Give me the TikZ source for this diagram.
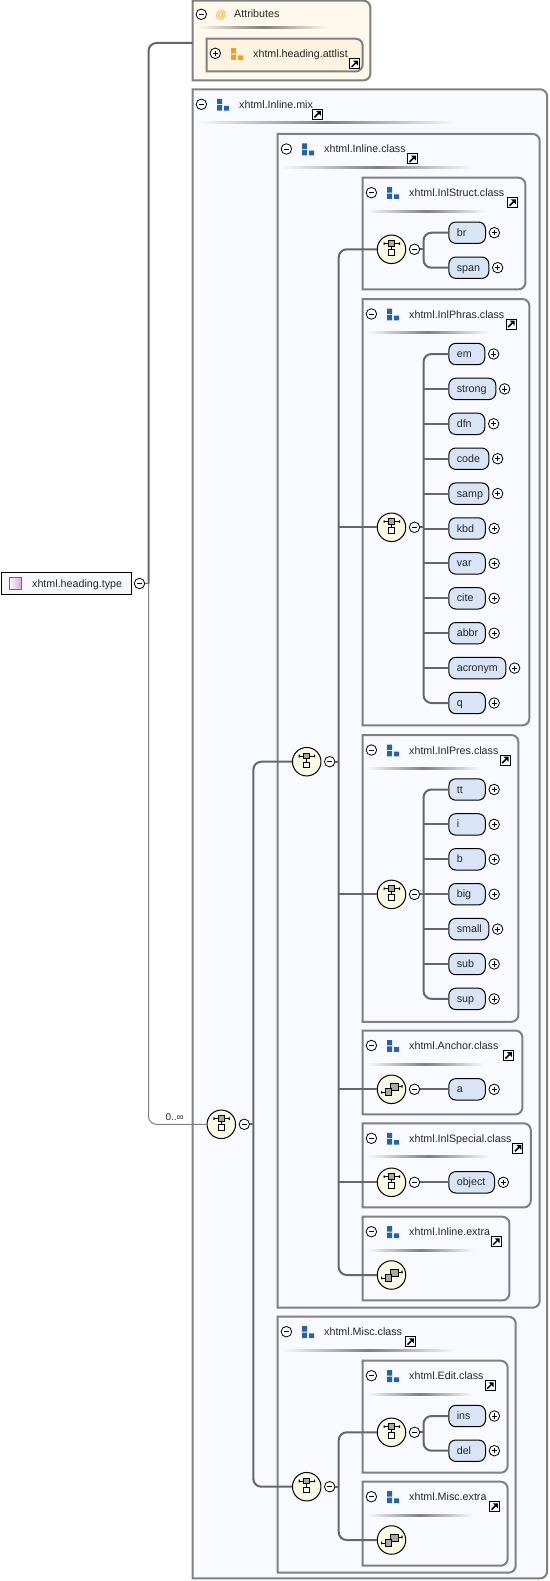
\documentclass[tikz,border=0pt]{standalone}
\usepackage{fontspec}
\setmainfont{Liberation Sans}
\usetikzlibrary{positioning}
\definecolor{boxblue}{HTML}{F8FAFF}
\definecolor{boxsand}{HTML}{FFF8EC}
\definecolor{listsand}{HTML}{FEF3DF}
\definecolor{elemblue}{HTML}{D9E5F7}
\definecolor{seqcream}{HTML}{FBFAE2}
\definecolor{framegray}{HTML}{808080}
\definecolor{wiregray}{HTML}{666666}
\definecolor{icongray}{HTML}{A8A8A8}
\definecolor{iconblue}{HTML}{2463A9}
\definecolor{iconorange}{HTML}{EFA217}
\tikzset{
  every node/.style={font=\fontsize{10.7}{12}\selectfont,text=black!85},
  boxarea/.style={anchor=north west,inner sep=0pt},
  framepath/.style={draw=framegray,line width=2pt},
  headtext/.style={anchor=base west,inner sep=0pt},
  rulebar/.style={anchor=west,inner sep=0pt,minimum height=2pt,minimum width=#1,
    left color=boxblue,right color=boxblue,middle color=black!50},
  wire/.style={draw=wiregray,line width=2pt},
  softwire/.style={draw=framegray,line width=1pt},
  elembox/.style={draw=black,line width=1pt,fill=elemblue,rounded corners=7pt,anchor=west,
    minimum height=21.4pt,text width=#1-16,inner xsep=8pt,inner ysep=0pt,align=left,
    text height=8pt,text depth=1pt},
  minusmark/.style={circle,draw=black,line width=.8pt,fill=white,minimum size=10.5pt,inner sep=0pt,
    path picture={\draw[line width=.8pt,shift={(path picture bounding box.center)}] (-2.6,0) -- (2.6,0);}},
  plusmark/.style={circle,draw=black,line width=.8pt,fill=white,minimum size=10.5pt,inner sep=0pt,
    path picture={\draw[line width=.8pt,shift={(path picture bounding box.center)}] (-2.6,0) -- (2.6,0) (0,-2.6) -- (0,2.6);}},
  headicon/.style={minimum size=13pt,inner sep=0pt,
    path picture={\fill[#1,shift={(path picture bounding box.center)}]
      (-6,-6.2) rectangle (-1,-.8) (-6,.2) rectangle (-1,5.6) (1.2,1) rectangle (6,5.6);}},
  linkmark/.style={rectangle,draw=black,line width=1pt,fill=white,minimum size=10pt,inner sep=0pt,
    path picture={\begin{scope}[shift={(path picture bounding box.center)}]
      \draw[line width=1.5pt] (-3,3) -- (1,-1);
      \fill[black] (3.4,-3.4) -- (-1.6,-3.4) -- (3.4,1.6) -- cycle;
    \end{scope}}},
  seqmark/.style={circle,draw=black,line width=1pt,fill=seqcream,minimum size=28.5pt,inner sep=0pt,
    path picture={\begin{scope}[shift={(path picture bounding box.center)},line width=1pt]
      \draw (0,-3) -- (0,.5);
      \draw (-7.5,-5.7) -- (8,-5.7);
      \fill[black] (-8,-7) rectangle (-6.8,-4.4) (7.3,-7) rectangle (8.5,-4.4);
      \draw[fill=icongray] (-2.8,-8.5) rectangle (2.8,-3);
      \draw[fill=white] (-2.8,.5) rectangle (2.8,6);
    \end{scope}}},
  allmark/.style={circle,draw=black,line width=1pt,fill=seqcream,minimum size=28.5pt,inner sep=0pt,
    path picture={\begin{scope}[shift={(path picture bounding box.center)},line width=1pt]
      \draw (-10,3) -- (-6.5,3) (6.5,-3) -- (10.5,-3);
      \fill[black] (-10.5,1.7) rectangle (-9.3,4.3) (9.8,-4.3) rectangle (11,-1.7);
      \draw[fill=icongray] (-1,-5.7) rectangle (6.5,1.5);
      \draw[fill=icongray] (-6.5,-.7) rectangle (0,6);
    \end{scope}}},
}
% frame with rounded corners on the right only
\newcommand{\groupframe}[6][boxblue]{
  \node[boxarea,minimum width=#5-#3,minimum height=#6-#4] (#2) at (#3,#4) {};
  \draw[framepath,fill=#1] (#2.north west) [rounded corners=7pt] -- (#2.north east) -- (#2.south east) [sharp corners] -- (#2.south west) -- cycle;
}
% blue group: name, left, top, right, bottom, title, x of link
\newcommand{\groupbox}[7]{
  \groupframe{#1}{#2}{#3}{#4}{#5}
  \node[minusmark] (#1minus) at (#2+8.7,#3+15) {};
  \node[headicon=iconblue] (#1icon) at (#2+30.3,#3+15.7) {};
  \node[headtext] (#1title) at (#2+46.3,#3+19) {#6};
  \node[linkmark] (#1link) at (#7+5.2,#3+25) {};
  \node[rulebar={.73*(#4-#2)}] (#1rule) at (#2+4,#3+33.5) {};
}
% compositor: style, name, x, y
\newcommand{\compositor}[4]{
  \node[#1] (#2) at (#3,#4) {};
  \node[minusmark] (#2minus) at (#3+23,#4) {};
  \coordinate (#2trunk) at (#3+32,#4);
  \draw[wire] (#2minus.east) -- (#2trunk);
}
% element with its plus: name, text, width, y
\newcommand{\elemitem}[4]{
  \node[elembox=#3] (#1) at (448.3,#4) {#2};
  \node[plusmark,right=2.7pt of #1] (#1plus) {};
}

\begin{document}
\begin{tikzpicture}[x=1pt,y=-1pt]
\useasboundingbox (0,0) rectangle (549,1581);

% root
\node[draw=black,line width=1pt,fill=black!3!blue!3,minimum width=130pt,minimum height=21.6pt,inner sep=0pt,anchor=west] (root) at (.5,583.3) {};
\node[draw=black!55!blue!60,line width=.8pt,left color=white,right color=blue!50!red!35,minimum size=12.5pt,inner sep=0pt] (rooticon) at (15.5,583.5) {};
\node[headtext] (roottitle) at (32,587) {xhtml.heading.type};
\node[minusmark] (rootminus) at (139.5,583.5) {};
\coordinate (roottrunk) at (148.5,583.5);

% attributes
\groupframe[boxsand]{attributes}{192.7}{.7}{370}{80}
\node[minusmark] (attributesminus) at (201.3,14.3) {};
\node[headtext,text=iconorange] (attributesicon) at (215.5,18.5) {@};
\node[headtext] (attributestitle) at (234,18) {Attributes};
\node[rulebar=130,left color=boxsand,right color=boxsand,middle color=black!50] (attributesrule) at (197,28) {};
\coordinate (attributesin) at (192.7,43);
\groupframe[listsand]{attlist}{206.7}{38.7}{362.3}{71}
\node[plusmark] (attlistplus) at (215.3,53.3) {};
\node[headicon=iconorange] (attlisticon) at (237,54.4) {};
\node[headtext] (attlisttitle) at (253,57.7) {xhtml.heading.attlist};
\node[linkmark] (attlistlink) at (354.6,64) {};

% nested groups
\groupbox{mix}{192.7}{89.3}{546.7}{1578}{xhtml.Inline.mix}{312.3}
\groupbox{inlineclass}{277.7}{134}{539.3}{1307.3}{xhtml.Inline.class}{407.3}
\groupbox{struct}{362.7}{177.7}{525}{289}{xhtml.InlStruct.class}{507.3}
\groupbox{phras}{362.7}{299}{529}{725}{xhtml.InlPhras.class}{506}
\groupbox{pres}{362.7}{735}{518}{1021.4}{xhtml.InlPres.class}{500}
\groupbox{anchor}{362.7}{1030.5}{522}{1114}{xhtml.Anchor.class}{503.3}
\groupbox{special}{362.7}{1123.3}{530.4}{1207}{xhtml.InlSpecial.class}{512.7}
\groupbox{extra}{362.7}{1216.7}{509}{1300}{xhtml.Inline.extra}{491}
\groupbox{misc}{277.7}{1316.7}{515.3}{1572.3}{xhtml.Misc.class}{405.3}
\groupbox{edit}{362.7}{1360.7}{507.3}{1472.3}{xhtml.Edit.class}{485}
\groupbox{miscextra}{362.7}{1481.7}{507.3}{1565.3}{xhtml.Misc.extra}{489.3}

% compositors
\compositor{seqmark}{mixseq}{221.3}{1124.3}
\compositor{seqmark}{classseq}{306.7}{761.7}
\compositor{seqmark}{structseq}{391.5}{249.3}
\compositor{seqmark}{phrasseq}{391.5}{527.3}
\compositor{seqmark}{presseq}{391.5}{894.4}
\compositor{allmark}{anchorseq}{391.5}{1089.3}
\compositor{seqmark}{specialseq}{391.5}{1182.3}
\node[allmark] (extraseq) at (391.5,1275) {};
\compositor{seqmark}{miscseq}{306.7}{1486.7}
\compositor{seqmark}{editseq}{391.5}{1432.3}
\node[allmark] (miscextraseq) at (391.5,1540) {};

% elements
\elemitem{br}{br}{36.7}{232.7}
\elemitem{span}{span}{40}{267.7}
\foreach \elemname/\elemw [count=\i from 0] in {em/36,strong/47,dfn/36,code/40,samp/40,kbd/36.5,var/36.5,cite/36.5,abbr/36.5,acronym/57,q/36.5}{
  \pgfmathsetmacro\ypos{354+34.9*\i}
  \elemitem{\elemname}{\elemname}{\elemw}{\ypos}
}
\foreach \elemname/\elemw [count=\i from 0] in {tt/36.5,i/36.5,b/36.5,big/36.5,small/40,sub/36.5,sup/36.5}{
  \pgfmathsetmacro\ypos{789.5+34.9*\i}
  \elemitem{\elemname}{\elemname}{\elemw}{\ypos}
}
\elemitem{a}{a}{36.5}{1089.3}
\elemitem{object}{object}{45.7}{1182.3}
\elemitem{ins}{ins}{36.7}{1416}
\elemitem{del}{del}{36.7}{1450.7}

% connectors
\draw[softwire,rounded corners=8pt] (roottrunk) |- (mixseq.west);
\draw[wire,rounded corners=8pt] (roottrunk) |- (attributesin);
\draw[wire,line width=1pt] (rootminus.east) -- (roottrunk);
\node[headtext,font=\fontsize{10}{12}\selectfont] (mixcount) at (165.3,1120.7) {0..∞};
\draw[wire,rounded corners=8pt] (classseq.west) -| (mixseqtrunk) |- (miscseq.west);
\draw[wire,rounded corners=8pt] (structseq.west) -| (classseqtrunk) |- (extraseq.west);
\foreach \part in {phrasseq,presseq,anchorseq,specialseq}{
  \draw[wire] (classseqtrunk |- \part.west) -- (\part.west);
}
\draw[wire,rounded corners=8pt] (editseq.west) -| (miscseqtrunk) |- (miscextraseq.west);
\draw[wire,rounded corners=8pt] (br.west) -| (structseqtrunk) |- (span.west);
\draw[wire,rounded corners=8pt] (em.west) -| (phrasseqtrunk) |- (q.west);
\foreach \elemname in {strong,dfn,code,samp,kbd,var,cite,abbr,acronym}{
  \draw[wire] (phrasseqtrunk |- \elemname.west) -- (\elemname.west);
}
\draw[wire,rounded corners=8pt] (tt.west) -| (presseqtrunk) |- (sup.west);
\foreach \elemname in {i,b,big,small,sub}{
  \draw[wire] (presseqtrunk |- \elemname.west) -- (\elemname.west);
}
\draw[wire] (anchorseqtrunk) -- (a.west);
\draw[wire] (specialseqtrunk) -- (object.west);
\draw[wire,rounded corners=8pt] (ins.west) -| (editseqtrunk) |- (del.west);
\end{tikzpicture}
\end{document}
